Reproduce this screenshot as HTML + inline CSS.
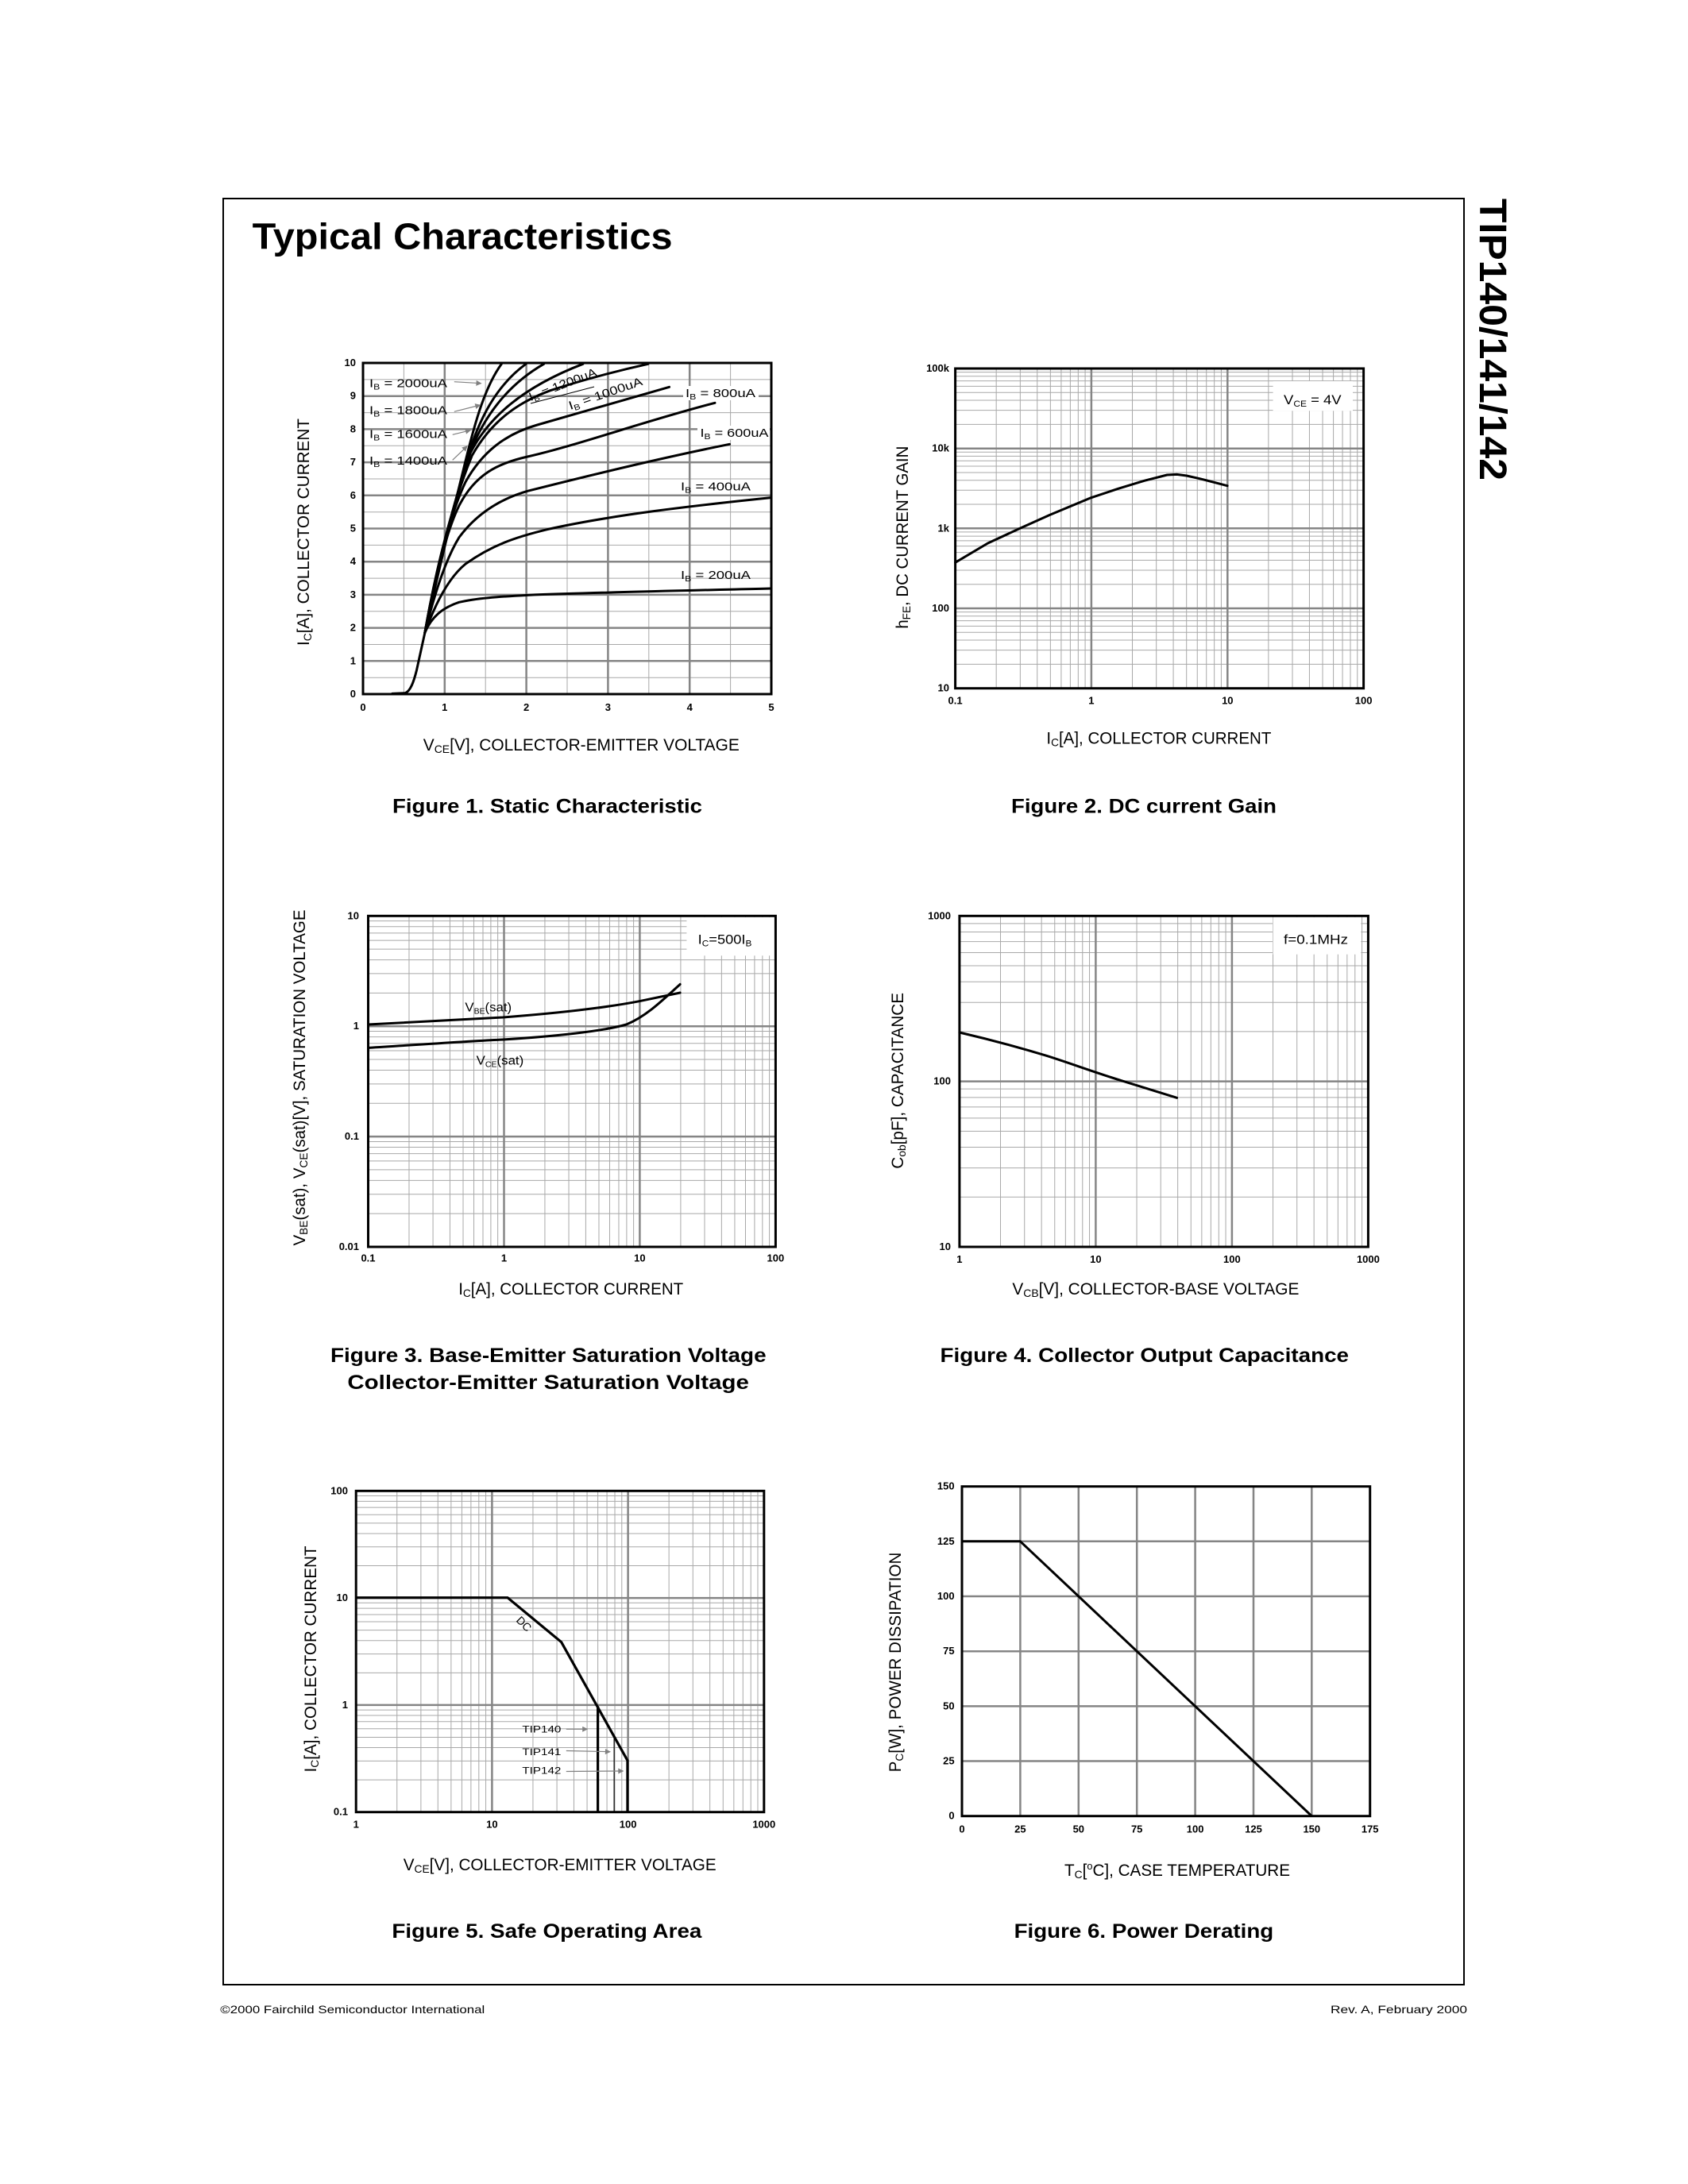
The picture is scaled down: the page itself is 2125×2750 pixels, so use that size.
<!DOCTYPE html>
<html><head><meta charset="utf-8">
<style>
html,body{margin:0;padding:0;background:#fff}
svg{display:block}
text{font-family:"Liberation Sans",Arial,sans-serif;fill:#000}
.tk{font-weight:bold;font-size:13px}
.at{font-size:21px}
.cap{font-weight:bold;font-size:25px}
.lb{font-size:15px}
.mj{stroke:#858585;stroke-width:2.5}
.mn{stroke:#a8a8a8;stroke-width:1}
.fr{fill:none;stroke:#000;stroke-width:3}
</style></head><body>
<svg width="2125" height="2750" viewBox="0 0 2125 2750">
<defs>
<g id="vm">
<line x1=".30103" y1="0" x2=".30103" y2="1" vector-effect="non-scaling-stroke"/>
<line x1=".47712" y1="0" x2=".47712" y2="1" vector-effect="non-scaling-stroke"/>
<line x1=".60206" y1="0" x2=".60206" y2="1" vector-effect="non-scaling-stroke"/>
<line x1=".69897" y1="0" x2=".69897" y2="1" vector-effect="non-scaling-stroke"/>
<line x1=".77815" y1="0" x2=".77815" y2="1" vector-effect="non-scaling-stroke"/>
<line x1=".84510" y1="0" x2=".84510" y2="1" vector-effect="non-scaling-stroke"/>
<line x1=".90309" y1="0" x2=".90309" y2="1" vector-effect="non-scaling-stroke"/>
<line x1=".95424" y1="0" x2=".95424" y2="1" vector-effect="non-scaling-stroke"/>
</g>
<g id="hm">
<line x1="0" y1=".69897" x2="1" y2=".69897" vector-effect="non-scaling-stroke"/>
<line x1="0" y1=".52288" x2="1" y2=".52288" vector-effect="non-scaling-stroke"/>
<line x1="0" y1=".39794" x2="1" y2=".39794" vector-effect="non-scaling-stroke"/>
<line x1="0" y1=".30103" x2="1" y2=".30103" vector-effect="non-scaling-stroke"/>
<line x1="0" y1=".22185" x2="1" y2=".22185" vector-effect="non-scaling-stroke"/>
<line x1="0" y1=".15490" x2="1" y2=".15490" vector-effect="non-scaling-stroke"/>
<line x1="0" y1=".09691" x2="1" y2=".09691" vector-effect="non-scaling-stroke"/>
<line x1="0" y1=".04576" x2="1" y2=".04576" vector-effect="non-scaling-stroke"/>
</g>
<marker id="ah" viewBox="0 0 10 10" refX="9" refY="5" markerWidth="10" markerHeight="7" orient="auto" markerUnits="userSpaceOnUse"><path d="M0,0 L10,5 L0,10 Z" fill="#808080"/></marker>
</defs>

<!-- page border -->
<rect x="281" y="250" width="1562" height="2249" fill="none" stroke="#000" stroke-width="2"/>
<text x="317.6" y="313.3" font-weight="bold" font-size="46" textLength="529" lengthAdjust="spacingAndGlyphs">Typical Characteristics</text>
<text transform="translate(1863,250) rotate(90)" font-weight="bold" font-size="48" textLength="355" lengthAdjust="spacingAndGlyphs">TIP140/141/142</text>

<!-- ================= FIGURE 1 ================= -->
<g class="mn">
<line x1="508.4" y1="457" x2="508.4" y2="874"/><line x1="611.2" y1="457" x2="611.2" y2="874"/><line x1="714" y1="457" x2="714" y2="874"/><line x1="816.8" y1="457" x2="816.8" y2="874"/><line x1="919.6" y1="457" x2="919.6" y2="874"/>
<line x1="457" y1="853.2" x2="971" y2="853.2"/><line x1="457" y1="811.5" x2="971" y2="811.5"/><line x1="457" y1="769.8" x2="971" y2="769.8"/><line x1="457" y1="728.1" x2="971" y2="728.1"/><line x1="457" y1="686.4" x2="971" y2="686.4"/><line x1="457" y1="644.7" x2="971" y2="644.7"/><line x1="457" y1="603" x2="971" y2="603"/><line x1="457" y1="561.3" x2="971" y2="561.3"/><line x1="457" y1="519.6" x2="971" y2="519.6"/><line x1="457" y1="477.9" x2="971" y2="477.9"/>
</g>
<g class="mj">
<line x1="559.8" y1="457" x2="559.8" y2="874"/><line x1="662.6" y1="457" x2="662.6" y2="874"/><line x1="765.4" y1="457" x2="765.4" y2="874"/><line x1="868.2" y1="457" x2="868.2" y2="874"/>
<line x1="457" y1="832.3" x2="971" y2="832.3"/><line x1="457" y1="790.6" x2="971" y2="790.6"/><line x1="457" y1="748.9" x2="971" y2="748.9"/><line x1="457" y1="707.2" x2="971" y2="707.2"/><line x1="457" y1="665.5" x2="971" y2="665.5"/><line x1="457" y1="623.8" x2="971" y2="623.8"/><line x1="457" y1="582.1" x2="971" y2="582.1"/><line x1="457" y1="540.4" x2="971" y2="540.4"/><line x1="457" y1="498.7" x2="971" y2="498.7"/>
</g>
<rect x="860" y="486" width="95" height="18" fill="#fff"/>
<rect x="878" y="536" width="91" height="18" fill="#fff"/>
<g transform="translate(340,430) scale(0.410256,0.333333)" fill="none" stroke="#000" stroke-linejoin="round" stroke-linecap="round">
<path vector-effect="non-scaling-stroke" stroke-width="3" d="M375,1330 L415,1328 C430,1320 440,1290 450,1240 L475,1100"/>
<path vector-effect="non-scaling-stroke" stroke-width="3" d="M475,1100 C495,1040 530,1005 580,985 C630,970 700,964 790,958 C1000,948 1300,940 1537,933"/>
<path vector-effect="non-scaling-stroke" stroke-width="3" d="M475,1100 C510,980 550,890 600,840 C680,770 750,740 850,710 C1050,655 1300,620 1537,590"/>
<path vector-effect="non-scaling-stroke" stroke-width="3" d="M475,1100 C505,950 540,820 580,740 C640,640 720,590 790,565 C950,515 1200,440 1410,388"/>
<path vector-effect="non-scaling-stroke" stroke-width="3" d="M475,1100 C505,900 540,720 580,620 C630,500 700,460 790,435 C950,390 1150,300 1365,232"/>
<path vector-effect="non-scaling-stroke" stroke-width="3" d="M475,1100 C510,860 550,660 600,530 C650,420 720,350 820,315 C950,270 1100,215 1225,172"/>
<path vector-effect="non-scaling-stroke" stroke-width="3" d="M475,1100 C510,850 560,610 620,430 C680,300 760,230 860,185 C960,145 1050,115 1160,85"/>
<path vector-effect="non-scaling-stroke" stroke-width="3" d="M475,1100 C510,860 560,620 615,420 C665,300 760,180 960,85"/>
<path vector-effect="non-scaling-stroke" stroke-width="3" d="M475,1100 C510,870 560,630 610,430 C650,300 720,170 840,85"/>
<path vector-effect="non-scaling-stroke" stroke-width="3" d="M475,1100 C510,880 560,640 605,440 C640,300 690,170 785,85"/>
<path vector-effect="non-scaling-stroke" stroke-width="3" d="M475,1100 C510,900 560,650 600,450 C630,300 660,170 710,85"/>
</g>
<rect x="457" y="457" width="514" height="417" class="fr"/>
<g class="lb">
<text x="465" y="487.3" textLength="98" lengthAdjust="spacingAndGlyphs">I<tspan font-size="10" dy="3">B</tspan><tspan dy="-3"> = 2000uA</tspan></text>
<text x="465" y="521.7" textLength="98" lengthAdjust="spacingAndGlyphs">I<tspan font-size="10" dy="3">B</tspan><tspan dy="-3"> = 1800uA</tspan></text>
<text x="465" y="551.7" textLength="98" lengthAdjust="spacingAndGlyphs">I<tspan font-size="10" dy="3">B</tspan><tspan dy="-3"> = 1600uA</tspan></text>
<text x="465" y="585" textLength="98" lengthAdjust="spacingAndGlyphs">I<tspan font-size="10" dy="3">B</tspan><tspan dy="-3"> = 1400uA</tspan></text>
<text transform="translate(668,505) rotate(-21)" textLength="90" lengthAdjust="spacingAndGlyphs">I<tspan font-size="10" dy="3">B</tspan><tspan dy="-3"> = 1200uA</tspan></text>
<text transform="translate(718,516) rotate(-19)" textLength="97" lengthAdjust="spacingAndGlyphs">I<tspan font-size="10" dy="3">B</tspan><tspan dy="-3"> = 1000uA</tspan></text>
<text x="863" y="500" textLength="88" lengthAdjust="spacingAndGlyphs">I<tspan font-size="10" dy="3">B</tspan><tspan dy="-3"> = 800uA</tspan></text>
<text x="881.5" y="550" textLength="86" lengthAdjust="spacingAndGlyphs">I<tspan font-size="10" dy="3">B</tspan><tspan dy="-3"> = 600uA</tspan></text>
<text x="857" y="617.7" textLength="88" lengthAdjust="spacingAndGlyphs">I<tspan font-size="10" dy="3">B</tspan><tspan dy="-3"> = 400uA</tspan></text>
<text x="857" y="729" textLength="88" lengthAdjust="spacingAndGlyphs">I<tspan font-size="10" dy="3">B</tspan><tspan dy="-3"> = 200uA</tspan></text>
</g>
<line x1="668" y1="508" x2="748" y2="487" stroke="#000" stroke-width="1"/>
<g stroke="#808080" stroke-width="1.2" marker-end="url(#ah)">
<line x1="571.8" y1="480.7" x2="605.8" y2="482.7"/>
<line x1="571.8" y1="518.3" x2="604.6" y2="510"/>
<line x1="569.7" y1="547.3" x2="592.3" y2="541.7"/>
<line x1="569.7" y1="579.3" x2="588.2" y2="561.7"/>
</g>
<g class="tk" text-anchor="end">
<text x="448" y="878">0</text><text x="448" y="836.3">1</text><text x="448" y="794.6">2</text><text x="448" y="752.9">3</text><text x="448" y="711.2">4</text><text x="448" y="669.5">5</text><text x="448" y="627.8">6</text><text x="448" y="586.1">7</text><text x="448" y="544.4">8</text><text x="448" y="502.7">9</text><text x="448" y="461">10</text>
</g>
<g class="tk" text-anchor="middle">
<text x="457" y="895">0</text><text x="559.8" y="895">1</text><text x="662.6" y="895">2</text><text x="765.4" y="895">3</text><text x="868.2" y="895">4</text><text x="971" y="895">5</text>
</g>
<text class="at" transform="translate(389,670) rotate(-90)" text-anchor="middle" textLength="286" lengthAdjust="spacingAndGlyphs">I<tspan font-size="14" dy="3">C</tspan><tspan dy="-3">[A], COLLECTOR CURRENT</tspan></text>
<text class="at" x="532.8" y="945" textLength="398" lengthAdjust="spacingAndGlyphs">V<tspan font-size="14" dy="3">CE</tspan><tspan dy="-3">[V], COLLECTOR-EMITTER VOLTAGE</tspan></text>
<text class="cap" x="494" y="1023.3" textLength="390" lengthAdjust="spacingAndGlyphs">Figure 1. Static Characteristic</text>

<!-- ================= FIGURE 2 ================= -->
<g class="mn">
<use href="#vm" transform="translate(1202.6,464) scale(171.33,402.7)"/>
<use href="#vm" transform="translate(1373.93,464) scale(171.33,402.7)"/>
<use href="#vm" transform="translate(1545.27,464) scale(171.33,402.7)"/>
<use href="#hm" transform="translate(1202.6,464) scale(514,100.67)"/>
<use href="#hm" transform="translate(1202.6,564.67) scale(514,100.67)"/>
<use href="#hm" transform="translate(1202.6,665.33) scale(514,100.67)"/>
<use href="#hm" transform="translate(1202.6,766) scale(514,100.67)"/>
</g>
<g class="mj">
<line x1="1373.9" y1="464" x2="1373.9" y2="866.7"/><line x1="1545.3" y1="464" x2="1545.3" y2="866.7"/>
<line x1="1202.6" y1="564.7" x2="1716.6" y2="564.7"/><line x1="1202.6" y1="665.3" x2="1716.6" y2="665.3"/><line x1="1202.6" y1="766" x2="1716.6" y2="766"/>
</g>
<rect x="1602.6" y="480" width="100.4" height="37.3" fill="#fff"/>
<text x="1616" y="509" font-size="17" textLength="72.6" lengthAdjust="spacingAndGlyphs">V<tspan font-size="11" dy="3">CE</tspan><tspan dy="-3"> = 4V</tspan></text>
<g transform="translate(1100,430) scale(0.410256,0.333333)" fill="none" stroke="#000" stroke-linejoin="round" stroke-linecap="round">
<path vector-effect="non-scaling-stroke" stroke-width="3" d="M250,835 L350,762 L450,705 L540,655 L667,590 L750,556 L830,526 L900,504 L930,502 L960,507 L1000,518 L1085,545"/>
</g>
<rect x="1202.6" y="464" width="514" height="402.7" class="fr"/>
<g class="tk" text-anchor="end">
<text x="1195" y="468">100k</text><text x="1195" y="568.7">10k</text><text x="1195" y="669.4">1k</text><text x="1195" y="770">100</text><text x="1195" y="870.7">10</text>
</g>
<g class="tk" text-anchor="middle">
<text x="1202.6" y="886.7">0.1</text><text x="1373.9" y="886.7">1</text><text x="1545.3" y="886.7">10</text><text x="1716.6" y="886.7">100</text>
</g>
<text class="at" transform="translate(1143,676.7) rotate(-90)" text-anchor="middle" textLength="230" lengthAdjust="spacingAndGlyphs">h<tspan font-size="14" dy="3">FE</tspan><tspan dy="-3">, DC CURRENT GAIN</tspan></text>
<text class="at" x="1317.4" y="936.7" textLength="283" lengthAdjust="spacingAndGlyphs">I<tspan font-size="14" dy="3">C</tspan><tspan dy="-3">[A], COLLECTOR CURRENT</tspan></text>
<text class="cap" x="1273" y="1023.3" textLength="334" lengthAdjust="spacingAndGlyphs">Figure 2. DC current Gain</text>

<!-- ================= FIGURE 3 ================= -->
<g class="mn">
<use href="#vm" transform="translate(463.5,1153.3) scale(170.97,416.7)"/>
<use href="#vm" transform="translate(634.47,1153.3) scale(170.97,416.7)"/>
<use href="#vm" transform="translate(805.43,1153.3) scale(170.97,416.7)"/>
<use href="#hm" transform="translate(463.5,1153.3) scale(512.9,138.9)"/>
<use href="#hm" transform="translate(463.5,1292.2) scale(512.9,138.9)"/>
<use href="#hm" transform="translate(463.5,1431.1) scale(512.9,138.9)"/>
</g>
<g class="mj">
<line x1="634.5" y1="1153.3" x2="634.5" y2="1570"/><line x1="805.4" y1="1153.3" x2="805.4" y2="1570"/>
<line x1="463.5" y1="1292.2" x2="976.4" y2="1292.2"/><line x1="463.5" y1="1431.1" x2="976.4" y2="1431.1"/>
</g>
<rect x="864.4" y="1155" width="110.6" height="48.3" fill="#fff"/>
<text x="878.7" y="1188.3" font-size="17" textLength="67.7" lengthAdjust="spacingAndGlyphs">I<tspan font-size="11" dy="3">C</tspan><tspan dy="-3">=500I</tspan><tspan font-size="11" dy="3">B</tspan></text>
<g transform="translate(370,1120) scale(0.410256,0.333333)" fill="none" stroke="#000" stroke-linejoin="round" stroke-linecap="round">
<path vector-effect="non-scaling-stroke" stroke-width="3" d="M228,510 C400,500 550,490 641,483 C800,468 950,448 1060,422 L1185,390"/>
<path vector-effect="non-scaling-stroke" stroke-width="3" d="M228,598 C400,585 550,572 641,567 C800,555 950,535 1020,510 C1080,480 1130,420 1185,358"/>
</g>
<rect x="463.5" y="1153.3" width="512.9" height="416.7" class="fr"/>
<text x="585.4" y="1273.3" font-size="16" textLength="58.7" lengthAdjust="spacingAndGlyphs">V<tspan font-size="10" dy="3">BE</tspan><tspan dy="-3">(sat)</tspan></text>
<text x="599.7" y="1340.7" font-size="16" textLength="59.5" lengthAdjust="spacingAndGlyphs">V<tspan font-size="10" dy="3">CE</tspan><tspan dy="-3">(sat)</tspan></text>
<g class="tk" text-anchor="end">
<text x="452" y="1157.3">10</text><text x="452" y="1296.2">1</text><text x="452" y="1435.1">0.1</text><text x="452" y="1574">0.01</text>
</g>
<g class="tk" text-anchor="middle">
<text x="463.5" y="1588.3">0.1</text><text x="634.5" y="1588.3">1</text><text x="805.4" y="1588.3">10</text><text x="976.4" y="1588.3">100</text>
</g>
<text class="at" transform="translate(384,1357) rotate(-90)" text-anchor="middle" textLength="423" lengthAdjust="spacingAndGlyphs">V<tspan font-size="14" dy="3">BE</tspan><tspan dy="-3">(sat), V</tspan><tspan font-size="14" dy="3">CE</tspan><tspan dy="-3">(sat)[V], SATURATION VOLTAGE</tspan></text>
<text class="at" x="577.2" y="1630" textLength="283" lengthAdjust="spacingAndGlyphs">I<tspan font-size="14" dy="3">C</tspan><tspan dy="-3">[A], COLLECTOR CURRENT</tspan></text>
<text class="cap" x="416" y="1715" textLength="548.6" lengthAdjust="spacingAndGlyphs">Figure 3. Base-Emitter Saturation Voltage</text>
<text class="cap" x="437.4" y="1749" textLength="505.5" lengthAdjust="spacingAndGlyphs">Collector-Emitter Saturation Voltage</text>

<!-- ================= FIGURE 4 ================= -->
<g class="mn">
<use href="#vm" transform="translate(1207.9,1153.3) scale(171.5,416.7)"/>
<use href="#vm" transform="translate(1379.4,1153.3) scale(171.5,416.7)"/>
<use href="#vm" transform="translate(1550.9,1153.3) scale(171.5,416.7)"/>
<use href="#hm" transform="translate(1207.9,1153.3) scale(514.5,208.35)"/>
<use href="#hm" transform="translate(1207.9,1361.65) scale(514.5,208.35)"/>
</g>
<g class="mj">
<line x1="1379.4" y1="1153.3" x2="1379.4" y2="1570"/><line x1="1550.9" y1="1153.3" x2="1550.9" y2="1570"/>
<line x1="1207.9" y1="1361.65" x2="1722.4" y2="1361.65"/>
</g>
<rect x="1602.6" y="1155" width="110.7" height="46.7" fill="#fff"/>
<text x="1616" y="1188.3" font-size="17" textLength="81" lengthAdjust="spacingAndGlyphs">f=0.1MHz</text>
<g transform="translate(1100,1120) scale(0.410256,0.333333)" fill="none" stroke="#000" stroke-linejoin="round" stroke-linecap="round">
<path vector-effect="non-scaling-stroke" stroke-width="3" d="M263,540 C350,565 450,598 530,628 C600,655 680,692 760,722 L930,787"/>
</g>
<rect x="1207.9" y="1153.3" width="514.5" height="416.7" class="fr"/>
<g class="tk" text-anchor="end">
<text x="1197" y="1157.3">1000</text><text x="1197" y="1365.7">100</text><text x="1197" y="1574">10</text>
</g>
<g class="tk" text-anchor="middle">
<text x="1207.9" y="1590">1</text><text x="1379.4" y="1590">10</text><text x="1550.9" y="1590">100</text><text x="1722.4" y="1590">1000</text>
</g>
<text class="at" transform="translate(1137,1360.8) rotate(-90)" text-anchor="middle" textLength="221.7" lengthAdjust="spacingAndGlyphs">C<tspan font-size="14" dy="3">ob</tspan><tspan dy="-3">[pF], CAPACITANCE</tspan></text>
<text class="at" x="1274.4" y="1630" textLength="361" lengthAdjust="spacingAndGlyphs">V<tspan font-size="14" dy="3">CB</tspan><tspan dy="-3">[V], COLLECTOR-BASE VOLTAGE</tspan></text>
<text class="cap" x="1183.5" y="1715" textLength="514.5" lengthAdjust="spacingAndGlyphs">Figure 4. Collector Output Capacitance</text>

<!-- ================= FIGURE 5 ================= -->
<g class="mn">
<use href="#vm" transform="translate(448.2,1877.3) scale(171.2,404.4)"/>
<use href="#vm" transform="translate(619.4,1877.3) scale(171.2,404.4)"/>
<use href="#vm" transform="translate(790.6,1877.3) scale(171.2,404.4)"/>
<use href="#hm" transform="translate(448.2,1877.3) scale(513.6,134.8)"/>
<use href="#hm" transform="translate(448.2,2012.1) scale(513.6,134.8)"/>
<use href="#hm" transform="translate(448.2,2146.9) scale(513.6,134.8)"/>
</g>
<g class="mj">
<line x1="619.4" y1="1877.3" x2="619.4" y2="2281.7"/><line x1="790.6" y1="1877.3" x2="790.6" y2="2281.7"/>
<line x1="448.2" y1="2012.1" x2="961.8" y2="2012.1"/><line x1="448.2" y1="2146.9" x2="961.8" y2="2146.9"/>
</g>
<g transform="translate(360,1840) scale(0.410256,0.333333)" fill="none" stroke="#000" stroke-linejoin="miter">
<path vector-effect="non-scaling-stroke" stroke-width="3.2" d="M215,515 L680,515 L845,683 L1048,1130 L1048,1325"/>
<path vector-effect="non-scaling-stroke" stroke-width="3.2" d="M957,925 L957,1325"/>
<path vector-effect="non-scaling-stroke" stroke-width="1.2" d="M1007,1040 L1007,1325"/>
</g>
<rect x="448.2" y="1877.3" width="513.6" height="404.4" class="fr"/>
<text transform="translate(649,2041) rotate(45)" font-size="14">DC</text>
<g font-size="12">
<text x="657.4" y="2181.7" textLength="49" lengthAdjust="spacingAndGlyphs">TIP140</text>
<text x="657.4" y="2210" textLength="49" lengthAdjust="spacingAndGlyphs">TIP141</text>
<text x="657.4" y="2233.3" textLength="49" lengthAdjust="spacingAndGlyphs">TIP142</text>
</g>
<g stroke="#808080" stroke-width="1.2" marker-end="url(#ah)">
<line x1="712.8" y1="2177.3" x2="739.5" y2="2177.3"/>
<line x1="712.8" y1="2204.5" x2="768.2" y2="2205.7"/>
<line x1="712.8" y1="2230.5" x2="784.6" y2="2230"/>
</g>
<g class="tk" text-anchor="end">
<text x="438" y="1881.3">100</text><text x="438" y="2016.1">10</text><text x="438" y="2150.9">1</text><text x="438" y="2285.7">0.1</text>
</g>
<g class="tk" text-anchor="middle">
<text x="448.2" y="2301.7">1</text><text x="619.4" y="2301.7">10</text><text x="790.6" y="2301.7">100</text><text x="961.8" y="2301.7">1000</text>
</g>
<text class="at" transform="translate(398,2089) rotate(-90)" text-anchor="middle" textLength="285" lengthAdjust="spacingAndGlyphs">I<tspan font-size="14" dy="3">C</tspan><tspan dy="-3">[A], COLLECTOR CURRENT</tspan></text>
<text class="at" x="507.7" y="2355" textLength="394" lengthAdjust="spacingAndGlyphs">V<tspan font-size="14" dy="3">CE</tspan><tspan dy="-3">[V], COLLECTOR-EMITTER VOLTAGE</tspan></text>
<text class="cap" x="493.4" y="2440" textLength="390" lengthAdjust="spacingAndGlyphs">Figure 5. Safe Operating Area</text>

<!-- ================= FIGURE 6 ================= -->
<g class="mj">
<line x1="1284.4" y1="1871.7" x2="1284.4" y2="2286.7"/><line x1="1357.8" y1="1871.7" x2="1357.8" y2="2286.7"/><line x1="1431.2" y1="1871.7" x2="1431.2" y2="2286.7"/><line x1="1504.6" y1="1871.7" x2="1504.6" y2="2286.7"/><line x1="1578" y1="1871.7" x2="1578" y2="2286.7"/><line x1="1651.3" y1="1871.7" x2="1651.3" y2="2286.7"/>
<line x1="1211" y1="1940.8" x2="1724.7" y2="1940.8"/><line x1="1211" y1="2010" x2="1724.7" y2="2010"/><line x1="1211" y1="2079.2" x2="1724.7" y2="2079.2"/><line x1="1211" y1="2148.4" x2="1724.7" y2="2148.4"/><line x1="1211" y1="2217.5" x2="1724.7" y2="2217.5"/>
</g>
<polyline points="1211,1940.8 1284.4,1940.8 1651.3,2286.7" fill="none" stroke="#000" stroke-width="3" stroke-linejoin="round"/>
<rect x="1211" y="1871.7" width="513.7" height="415" class="fr"/>
<g class="tk" text-anchor="end">
<text x="1201.6" y="1875.7">150</text><text x="1201.6" y="1944.8">125</text><text x="1201.6" y="2014">100</text><text x="1201.6" y="2083.2">75</text><text x="1201.6" y="2152.4">50</text><text x="1201.6" y="2221.5">25</text><text x="1201.6" y="2290.7">0</text>
</g>
<g class="tk" text-anchor="middle">
<text x="1211" y="2307.3">0</text><text x="1284.4" y="2307.3">25</text><text x="1357.8" y="2307.3">50</text><text x="1431.2" y="2307.3">75</text><text x="1504.6" y="2307.3">100</text><text x="1578" y="2307.3">125</text><text x="1651.3" y="2307.3">150</text><text x="1724.7" y="2307.3">175</text>
</g>
<text class="at" transform="translate(1134,2093) rotate(-90)" text-anchor="middle" textLength="276.7" lengthAdjust="spacingAndGlyphs">P<tspan font-size="14" dy="3">C</tspan><tspan dy="-3">[W], POWER DISSIPATION</tspan></text>
<text class="at" x="1340" y="2362" textLength="284" lengthAdjust="spacingAndGlyphs">T<tspan font-size="14" dy="3">C</tspan><tspan dy="-3">[</tspan><tspan font-size="13" dy="-8">o</tspan><tspan dy="8">C], CASE TEMPERATURE</tspan></text>
<text class="cap" x="1276.6" y="2440" textLength="326.6" lengthAdjust="spacingAndGlyphs">Figure 6. Power Derating</text>

<!-- footer -->
<text x="277.3" y="2535" font-size="14" textLength="333" lengthAdjust="spacingAndGlyphs">©2000 Fairchild Semiconductor International</text>
<text x="1675" y="2535" font-size="14" textLength="172" lengthAdjust="spacingAndGlyphs">Rev. A, February 2000</text>
</svg>
</body></html>
